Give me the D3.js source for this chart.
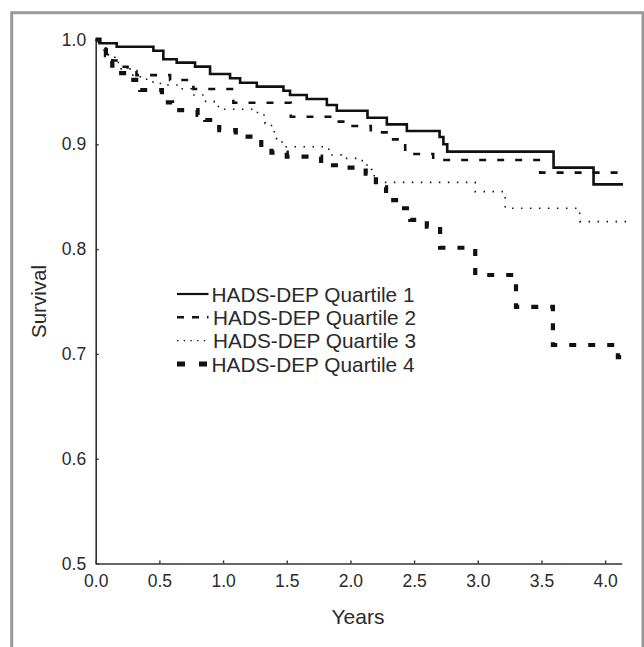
<!DOCTYPE html>
<html>
<head>
<meta charset="utf-8">
<script src="https://cdn.jsdelivr.net/npm/d3@7"></script>
<style>
  body { margin: 0; background: #fff; }
  svg { display: block; font-family: "Liberation Sans", Arial, sans-serif; }
</style>
</head>
<body>
<svg id="chart" width="644" height="647"></svg>
<script>
// step points: time (years) and survival after each drop
var q1Times = [0, 0.03, 0.165, 0.453, 0.531, 0.636, 0.78, 0.898, 1.055, 1.134, 1.265, 1.474, 1.526, 1.657, 1.815, 1.893, 2.134, 2.286, 2.443, 2.70, 2.73, 2.76, 3.595, 3.909, 4.14];
var q1Surv  = [1.0, 0.9964, 0.9931, 0.9893, 0.9811, 0.9779, 0.9741, 0.9671, 0.963, 0.9588, 0.955, 0.9511, 0.947, 0.9432, 0.9375, 0.932, 0.9254, 0.919, 0.9127, 0.907, 0.900, 0.893, 0.8777, 0.8618, 0.8618];

var q2Times = [0, 0.03, 0.08, 0.13, 0.18, 0.25, 0.32, 0.584, 0.767, 1.081, 1.532, 1.867, 1.97, 2.16, 2.31, 2.43, 2.65, 3.49, 4.17];
var q2Surv  = [1.0, 0.993, 0.986, 0.98, 0.974, 0.970, 0.966, 0.9614, 0.9528, 0.9397, 0.9263, 0.9216, 0.9175, 0.9114, 0.9047, 0.8907, 0.885, 0.873, 0.873];

var q3Times = [0, 0.05, 0.1, 0.15, 0.2, 0.28, 0.35, 0.45, 0.52, 0.65, 0.75, 0.85, 0.93, 0.99, 1.27, 1.33, 1.38, 1.42, 1.463, 1.83, 1.93, 2.076, 2.13, 2.168, 2.207, 2.98, 3.215, 3.80, 4.17];
var q3Surv  = [1.0, 0.99, 0.985, 0.978, 0.972, 0.966, 0.962, 0.958, 0.9566, 0.953, 0.947, 0.941, 0.936, 0.9334, 0.928, 0.92, 0.912, 0.905, 0.8977, 0.8898, 0.8866, 0.8844, 0.876, 0.870, 0.8637, 0.8548, 0.839, 0.8262, 0.8262];

var q4Times = [0, 0.03, 0.08, 0.13, 0.2, 0.25, 0.35, 0.52, 0.6, 0.8, 0.86, 0.97, 1.1, 1.3, 1.38, 1.5, 1.77, 1.95, 2.12, 2.2, 2.28, 2.39, 2.47, 2.6, 2.704, 2.98, 3.30, 3.59, 4.1, 4.17];
var q4Surv  = [1.0, 0.99, 0.985, 0.975, 0.968, 0.9614, 0.9518, 0.94, 0.9327, 0.928, 0.9232, 0.9136, 0.9073, 0.897, 0.892, 0.8882, 0.880, 0.8777, 0.872, 0.859, 0.8468, 0.839, 0.8278, 0.8214, 0.8013, 0.7753, 0.7448, 0.7085, 0.697, 0.697];

var xTicks = [0, 0.5, 1.0, 1.5, 2.0, 2.5, 3.0, 3.5, 4.0];
var yTicks = [0.5, 0.6, 0.7, 0.8, 0.9, 1.0];
var seriesNames = ["HADS-DEP Quartile 1", "HADS-DEP Quartile 2", "HADS-DEP Quartile 3", "HADS-DEP Quartile 4"];

var svg = d3.select("#chart");

// grey frame round the figure (bottom edge falls outside the picture)
svg.append("rect")
  .attr("x", 11.7).attr("y", 12.7)
  .attr("width", 631.3).attr("height", 700)
  .attr("fill", "none")
  .attr("stroke", "#999")
  .attr("stroke-width", 3);

var x = d3.scaleLinear().domain([0, 4.13]).range([95.7, 621.7]);
var y = d3.scaleLinear().domain([0.5, 1.0]).range([563.5, 39.5]);

var xAxis = svg.append("g")
  .attr("transform", "translate(0,563.5)")
  .call(d3.axisBottom(x).tickValues(xTicks).tickFormat(d3.format(".1f"))
    .tickSizeInner(-3).tickSizeOuter(0).tickPadding(11.5));

var yAxis = svg.append("g")
  .attr("transform", "translate(95.7,0)")
  .call(d3.axisLeft(y).tickValues(yTicks).tickFormat(d3.format(".1f"))
    .tickSizeInner(-3).tickSizeOuter(0).tickPadding(9.5));

[xAxis, yAxis].forEach(function(g) {
  g.select(".domain").attr("stroke", "#333").attr("stroke-width", 1.6);
  g.selectAll(".tick line").attr("stroke", "#333").attr("stroke-width", 1.4);
  g.selectAll(".tick text")
    .attr("font-size", 17.5)
    .attr("font-family", "Liberation Sans, Arial, sans-serif")
    .attr("fill", "#2a2a2a");
});

svg.append("text")
  .attr("transform", "translate(46,301.5) rotate(-90)")
  .attr("text-anchor", "middle")
  .attr("font-size", 20.5)
  .attr("fill", "#2a2a2a")
  .text("Survival");

svg.append("text")
  .attr("x", 358).attr("y", 624)
  .attr("text-anchor", "middle")
  .attr("font-size", 21)
  .attr("fill", "#2a2a2a")
  .text("Years");

var styles = [
  { width: 2.6, dash: null,       legendDash: null,      legendWidth: 2.2 },
  { width: 2.6, dash: "7,11",     legendDash: "7,8",     legendWidth: 2.4 },
  { width: 1.6, dash: "1.5,7.5",  legendDash: "1.4,5.3", legendWidth: 1.4 },
  { width: 4.2, dash: "7,12",     legendDash: "8,14",    legendWidth: 5 }
];

var series = [
  d3.zip(q1Times, q1Surv),
  d3.zip(q2Times, q2Surv),
  d3.zip(q3Times, q3Surv),
  d3.zip(q4Times, q4Surv)
];

var line = d3.line()
  .x(function(d) { return x(d[0]); })
  .y(function(d) { return y(d[1]); })
  .curve(d3.curveStepAfter);

series.forEach(function(pts, i) {
  svg.append("path")
    .datum(pts)
    .attr("d", line)
    .attr("fill", "none")
    .attr("stroke", "#111")
    .attr("stroke-width", styles[i].width)
    .attr("stroke-dasharray", styles[i].dash);
});

// legend
var legendBase = [301.7, 325, 348.3, 371.7];
seriesNames.forEach(function(name, i) {
  var g = svg.append("g");
  g.append("line")
    .attr("x1", 177).attr("x2", 208.5)
    .attr("y1", legendBase[i] - 7.7).attr("y2", legendBase[i] - 7.7)
    .attr("stroke", "#111")
    .attr("stroke-width", styles[i].legendWidth)
    .attr("stroke-dasharray", styles[i].legendDash);
  g.append("text")
    .attr("x", (i == 1 || i == 2) ? 213 : 211.5)
    .attr("y", legendBase[i])
    .attr("font-size", 20.8)
    .attr("fill", "#2a2a2a")
    .text(name);
});
</script>
</body>
</html>
